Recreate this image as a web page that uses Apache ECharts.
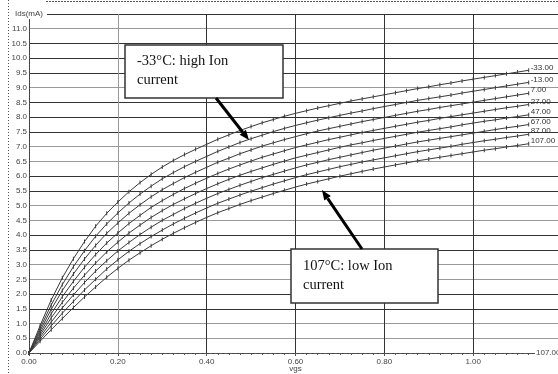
<!DOCTYPE html>
<html>
<head>
<meta charset="utf-8">
<script src="https://cdn.jsdelivr.net/npm/echarts@6/dist/echarts.min.js"></script>
<style>
html, body { margin: 0; padding: 0; background: #fff; }
#chart { width: 558px; height: 374px; }
</style>
</head>
<body>
<div id="chart"></div>
<script>
// Gate voltage sweep (V)
const vgs = [0, 0.025, 0.05, 0.075, 0.1, 0.125, 0.15, 0.175, 0.2, 0.225, 0.25, 0.275, 0.3, 0.325, 0.35, 0.375,
  0.4, 0.425, 0.45, 0.475, 0.5, 0.525, 0.55, 0.575, 0.6, 0.625, 0.65, 0.675, 0.7, 0.725, 0.75, 0.775,
  0.8, 0.825, 0.85, 0.875, 0.9, 0.925, 0.95, 0.975, 1.0, 1.025, 1.05, 1.075, 1.1, 1.125];

// Temperature labels (°C) for each curve
const temps = ['-33.00', '-13.00', '7.00', '27.00', '47.00', '67.00', '87.00', '107.00'];

// Drain current Ids (mA) per temperature
const idsM33 = [0, 0.93, 1.8, 2.55, 3.2, 3.78, 4.3, 4.74, 5.12, 5.47, 5.78, 6.06, 6.31, 6.53, 6.73, 6.91,
  7.08, 7.25, 7.4, 7.55, 7.68, 7.81, 7.92, 8.03, 8.13, 8.22, 8.31, 8.39, 8.47, 8.55, 8.62, 8.69,
  8.76, 8.83, 8.9, 8.97, 9.03, 9.1, 9.16, 9.23, 9.29, 9.35, 9.41, 9.47, 9.53, 9.59];
const idsM13 = [0, 0.84, 1.63, 2.32, 2.93, 3.47, 3.96, 4.38, 4.75, 5.09, 5.39, 5.66, 5.91, 6.12, 6.32, 6.5,
  6.67, 6.84, 6.99, 7.14, 7.27, 7.39, 7.51, 7.62, 7.72, 7.81, 7.9, 7.98, 8.06, 8.14, 8.21, 8.29,
  8.36, 8.43, 8.5, 8.57, 8.63, 8.69, 8.75, 8.82, 8.88, 8.94, 9.0, 9.06, 9.12, 9.18];
const ids7 = [0, 0.76, 1.48, 2.12, 2.68, 3.19, 3.65, 4.06, 4.41, 4.74, 5.03, 5.3, 5.54, 5.75, 5.95, 6.13,
  6.3, 6.47, 6.61, 6.76, 6.89, 7.02, 7.13, 7.24, 7.34, 7.44, 7.53, 7.61, 7.69, 7.77, 7.85, 7.92,
  7.99, 8.06, 8.13, 8.2, 8.26, 8.33, 8.39, 8.45, 8.51, 8.57, 8.63, 8.69, 8.75, 8.81];
const ids27 = [0, 0.68, 1.33, 1.91, 2.43, 2.91, 3.34, 3.73, 4.07, 4.39, 4.67, 4.94, 5.17, 5.38, 5.58, 5.76,
  5.93, 6.09, 6.24, 6.38, 6.51, 6.64, 6.75, 6.86, 6.97, 7.06, 7.15, 7.24, 7.32, 7.4, 7.48, 7.55,
  7.62, 7.69, 7.76, 7.83, 7.89, 7.96, 8.02, 8.08, 8.14, 8.2, 8.26, 8.32, 8.37, 8.43];
const ids47 = [0, 0.61, 1.19, 1.72, 2.2, 2.64, 3.05, 3.43, 3.76, 4.07, 4.34, 4.6, 4.83, 5.04, 5.23, 5.41,
  5.58, 5.74, 5.89, 6.03, 6.16, 6.28, 6.4, 6.51, 6.62, 6.71, 6.8, 6.89, 6.98, 7.06, 7.13, 7.21,
  7.28, 7.35, 7.42, 7.49, 7.55, 7.61, 7.67, 7.74, 7.8, 7.86, 7.91, 7.97, 8.02, 8.08];
const ids67 = [0, 0.54, 1.05, 1.53, 1.97, 2.39, 2.78, 3.13, 3.46, 3.75, 4.02, 4.27, 4.5, 4.7, 4.9, 5.08,
  5.25, 5.41, 5.55, 5.69, 5.82, 5.95, 6.06, 6.17, 6.28, 6.38, 6.47, 6.56, 6.64, 6.72, 6.8, 6.88,
  6.95, 7.02, 7.09, 7.16, 7.22, 7.28, 7.34, 7.4, 7.46, 7.52, 7.58, 7.64, 7.69, 7.75];
const ids87 = [0, 0.47, 0.92, 1.35, 1.75, 2.14, 2.5, 2.85, 3.16, 3.45, 3.71, 3.95, 4.17, 4.38, 4.57, 4.75,
  4.92, 5.08, 5.22, 5.36, 5.49, 5.61, 5.73, 5.84, 5.95, 6.05, 6.14, 6.23, 6.32, 6.4, 6.48, 6.55,
  6.62, 6.69, 6.76, 6.83, 6.89, 6.95, 7.01, 7.08, 7.14, 7.2, 7.25, 7.31, 7.36, 7.42];
const ids107 = [0, 0.4, 0.79, 1.17, 1.54, 1.9, 2.24, 2.57, 2.87, 3.15, 3.4, 3.64, 3.86, 4.06, 4.25, 4.43,
  4.6, 4.76, 4.9, 5.04, 5.17, 5.29, 5.41, 5.52, 5.63, 5.73, 5.82, 5.91, 6.0, 6.08, 6.16, 6.24,
  6.31, 6.38, 6.45, 6.52, 6.58, 6.64, 6.7, 6.76, 6.82, 6.88, 6.93, 6.99, 7.04, 7.1];

const curves = [idsM33, idsM13, ids7, ids27, ids47, ids67, ids87, ids107];

// Annotation texts
const noteHigh = '-33°C: high Ion\ncurrent';
const noteLow = '107°C: low Ion\ncurrent';

const DARK = '#333';
const GRAY = '#9a9a9a';
const labelFont = '"Liberation Sans", Arial, sans-serif';
const serifFont = '"Liberation Serif", "Times New Roman", serif';

// horizontal grid colours, from Ids = 0.0 up to 11.5
const ySplitColors = [DARK, GRAY, GRAY, DARK, DARK, GRAY, GRAY, DARK, DARK, GRAY, GRAY, DARK,
  DARK, GRAY, GRAY, DARK, DARK, DARK, GRAY, DARK, DARK, DARK, GRAY, DARK];
// vertical grid colours, from vgs = 0.0 to 1.2
const xSplitColors = [DARK, GRAY, DARK, DARK, DARK, DARK, DARK];

const chart = echarts.init(document.getElementById('chart'), null, { renderer: 'canvas' });

const series = curves.map((ids, k) => ({
  name: temps[k],
  type: 'line',
  data: vgs.map((v, i) => [v, ids[i]]),
  symbol: 'rect',
  symbolSize: [1, 4],
  showSymbol: true,
  itemStyle: { color: '#3a3a3a' },
  lineStyle: { color: '#3a3a3a', width: 1 },
  emphasis: { disabled: true },
  animation: false,
  endLabel: {
    show: true,
    formatter: temps[k],
    color: '#333',
    fontSize: 8,
    fontFamily: labelFont,
    distance: 2,
    offset: [0, -3]
  },
  z: 3
}));

chart.setOption({
  backgroundColor: '#fff',
  animation: false,
  grid: { left: 29, top: 14, width: 533, height: 339, containLabel: false, outerBoundsMode: 'none' },
  xAxis: {
    type: 'value',
    min: 0,
    max: 1.2,
    interval: 0.2,
    name: 'vgs',
    nameLocation: 'middle',
    nameGap: 12,
    nameMoveOverlap: false,
    nameTextStyle: { fontSize: 8, color: '#444', fontFamily: labelFont },
    axisLine: { show: true, lineStyle: { color: '#555', type: [3, 2], width: 1 } },
    axisTick: { show: true, length: 3, lineStyle: { color: '#555' } },
    minorTick: { show: true, splitNumber: 8, length: 2, lineStyle: { color: '#555' } },
    axisLabel: {
      fontSize: 8, color: '#444', fontFamily: labelFont, margin: 5,
      formatter: v => (v > 1.01 ? '' : v.toFixed(2))
    },
    splitLine: { show: true, lineStyle: { color: xSplitColors, width: 1 } }
  },
  yAxis: {
    type: 'value',
    min: 0,
    max: 11.5,
    interval: 0.5,
    axisLine: { show: true, lineStyle: { color: '#555', type: [1, 2], width: 1 } },
    axisTick: { show: false },
    axisLabel: {
      fontSize: 8, color: '#444', fontFamily: labelFont, margin: 2,
      formatter: v => (v > 11.2 ? '' : v.toFixed(1))
    },
    splitLine: { show: true, lineStyle: { color: ySplitColors, width: 1 } }
  },
  series: series,
  graphic: [
    // outer dotted frame edges
    { type: 'line', z: 50, shape: { x1: 8.5, y1: 0, x2: 8.5, y2: 374 },
      style: { stroke: '#555', lineWidth: 1, lineDash: [1, 2] } },
    { type: 'line', z: 50, shape: { x1: 46, y1: 1.5, x2: 558, y2: 1.5 },
      style: { stroke: '#555', lineWidth: 1, lineDash: [2, 1] } },
    // y-axis unit label at the top tick
    { type: 'rect', z: 50, shape: { x: 12, y: 9, width: 35, height: 10 }, style: { fill: '#fff' } },
    { type: 'text', z: 51, x: 15, y: 14,
      style: { text: 'Ids(mA)', font: '8px ' + labelFont, fill: '#444', verticalAlign: 'middle' } },
    // bottom-right trace label
    { type: 'rect', z: 50, shape: { x: 535, y: 348, width: 23, height: 10 }, style: { fill: '#fff' } },
    { type: 'text', z: 51, x: 536, y: 353,
      style: { text: '107.00', font: '8px ' + labelFont, fill: '#444', verticalAlign: 'middle' } },
    // annotation: cold corner
    { type: 'rect', z: 60, shape: { x: 125, y: 45, width: 158, height: 53 },
      style: { fill: '#fff', stroke: '#333', lineWidth: 1.5 } },
    { type: 'text', z: 61, x: 137, y: 51.5,
      style: { text: noteHigh, font: '14.5px ' + serifFont, fill: '#111', lineHeight: 19 } },
    { type: 'line', z: 62, shape: { x1: 216, y1: 98, x2: 242.8, y2: 132.2 },
      style: { stroke: '#000', lineWidth: 3 } },
    { type: 'polygon', z: 62, shape: { points: [[249, 140], [239.7, 134.7], [245.9, 129.7]] },
      style: { fill: '#000' } },
    // annotation: hot corner
    { type: 'rect', z: 60, shape: { x: 291, y: 249, width: 147, height: 54 },
      style: { fill: '#fff', stroke: '#333', lineWidth: 1.5 } },
    { type: 'text', z: 61, x: 303, y: 256.5,
      style: { text: noteLow, font: '14.5px ' + serifFont, fill: '#111', lineHeight: 19 } },
    { type: 'line', z: 62, shape: { x1: 362, y1: 249, x2: 327.6, y2: 198.3 },
      style: { stroke: '#000', lineWidth: 3 } },
    { type: 'polygon', z: 62, shape: { points: [[322, 190], [330.9, 196.0], [324.3, 200.5]] },
      style: { fill: '#000' } }
  ]
});
</script>
</body>
</html>
